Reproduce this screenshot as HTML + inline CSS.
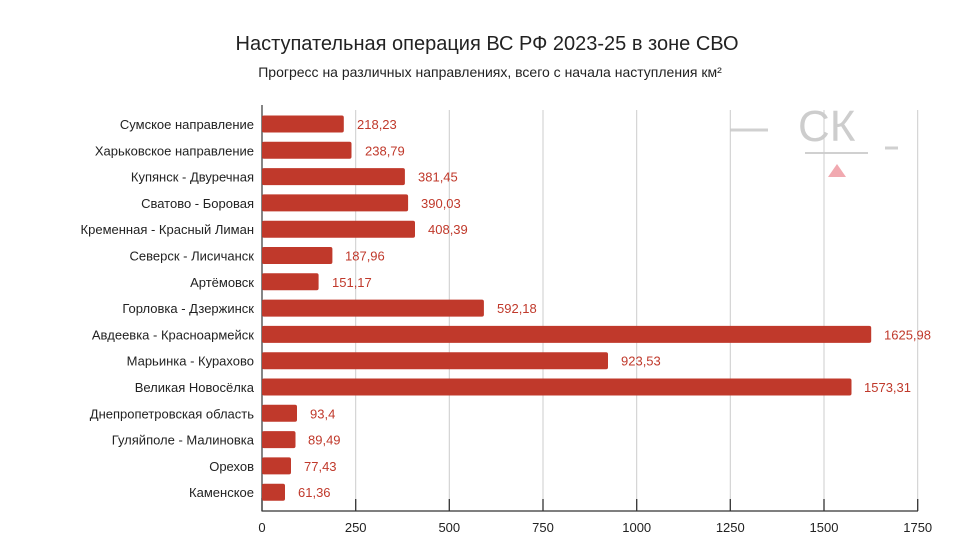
<!DOCTYPE html>
<html><head><meta charset="utf-8"><style>
body{margin:0;background:#fff;}
svg{display:block;font-family:"Liberation Sans",Roboto,sans-serif;}
</style></head><body>
<svg width="974" height="560" viewBox="0 0 974 560" xmlns="http://www.w3.org/2000/svg">
<rect width="974" height="560" fill="#fff"/>
<text x="487" y="50" text-anchor="middle" font-size="20" fill="#222">Наступательная операция ВС РФ 2023-25 в зоне СВО</text>
<text x="490" y="77" text-anchor="middle" font-size="14" fill="#222">Прогресс на различных направлениях, всего с начала наступления км²</text>
<!-- watermark -->
<g opacity="0.9">
<line x1="730" y1="130" x2="768" y2="130" stroke="#ccc" stroke-width="3"/>
<text x="798" y="141" font-size="44" fill="#c8c8c8">СК</text>
<line x1="805" y1="153" x2="868" y2="153" stroke="#ccc" stroke-width="2"/>
<line x1="885" y1="148" x2="898" y2="148" stroke="#ccc" stroke-width="3"/>
<polygon points="828,177 837,164 846,177" fill="#f0a0a8"/>
</g>
<g stroke="#ccc" stroke-width="1">
<line x1="355.7" y1="110" x2="355.7" y2="511"/>
<line x1="449.3" y1="110" x2="449.3" y2="511"/>
<line x1="543" y1="110" x2="543" y2="511"/>
<line x1="636.7" y1="110" x2="636.7" y2="511"/>
<line x1="730.3" y1="110" x2="730.3" y2="511"/>
<line x1="824" y1="110" x2="824" y2="511"/>
<line x1="917.7" y1="110" x2="917.7" y2="511"/>
</g>
<g stroke="#333" stroke-width="1.3">
<line x1="262" y1="498" x2="262" y2="511"/>
<line x1="355.7" y1="499" x2="355.7" y2="511"/>
<line x1="449.3" y1="499" x2="449.3" y2="511"/>
<line x1="543" y1="499" x2="543" y2="511"/>
<line x1="636.7" y1="499" x2="636.7" y2="511"/>
<line x1="730.3" y1="499" x2="730.3" y2="511"/>
<line x1="824" y1="499" x2="824" y2="511"/>
<line x1="917.7" y1="499" x2="917.7" y2="511"/>
</g>
<line x1="262" y1="105" x2="262" y2="511" stroke="#444" stroke-width="1.3"/>
<line x1="261.5" y1="511" x2="918" y2="511" stroke="#333" stroke-width="1.3"/>
<g font-size="13" fill="#222" text-anchor="middle">
<text x="262" y="532">0</text><text x="355.7" y="532">250</text><text x="449.3" y="532">500</text>
<text x="543" y="532">750</text><text x="636.7" y="532">1000</text><text x="730.3" y="532">1250</text>
<text x="824" y="532">1500</text><text x="917.7" y="532">1750</text>
</g>
<g id="bars"></g>
<g font-size="13">
<g text-anchor="end" fill="#222">
<text x="254" y="129">Сумское направление</text>
<text x="254" y="155.3">Харьковское направление</text>
<text x="254" y="181.6">Купянск - Двуречная</text>
<text x="254" y="207.9">Сватово - Боровая</text>
<text x="254" y="234.2">Кременная - Красный Лиман</text>
<text x="254" y="260.5">Северск - Лисичанск</text>
<text x="254" y="286.8">Артёмовск</text>
<text x="254" y="313.1">Горловка - Дзержинск</text>
<text x="254" y="339.4">Авдеевка - Красноармейск</text>
<text x="254" y="365.7">Марьинка - Курахово</text>
<text x="254" y="392">Великая Новосёлка</text>
<text x="254" y="418.3">Днепропетровская область</text>
<text x="254" y="444.6">Гуляйполе - Малиновка</text>
<text x="254" y="470.9">Орехов</text>
<text x="254" y="497.2">Каменское</text>
</g>
<g fill="#c0392b">
<rect x="262" y="115.5" width="81.8" height="17" rx="2"/>
<rect x="262" y="141.8" width="89.5" height="17" rx="2"/>
<rect x="262" y="168.1" width="142.9" height="17" rx="2"/>
<rect x="262" y="194.4" width="146.1" height="17" rx="2"/>
<rect x="262" y="220.7" width="153" height="17" rx="2"/>
<rect x="262" y="247" width="70.4" height="17" rx="2"/>
<rect x="262" y="273.3" width="56.6" height="17" rx="2"/>
<rect x="262" y="299.6" width="221.9" height="17" rx="2"/>
<rect x="262" y="325.9" width="609.2" height="17" rx="2"/>
<rect x="262" y="352.2" width="346" height="17" rx="2"/>
<rect x="262" y="378.5" width="589.5" height="17" rx="2"/>
<rect x="262" y="404.8" width="35" height="17" rx="2"/>
<rect x="262" y="431.1" width="33.5" height="17" rx="2"/>
<rect x="262" y="457.4" width="29" height="17" rx="2"/>
<rect x="262" y="483.7" width="23" height="17" rx="2"/>
</g>
<g fill="#c0392b">
<text x="357" y="129">218,23</text>
<text x="365" y="155.3">238,79</text>
<text x="418" y="181.6">381,45</text>
<text x="421" y="207.9">390,03</text>
<text x="428" y="234.2">408,39</text>
<text x="345" y="260.5">187,96</text>
<text x="332" y="286.8">151,17</text>
<text x="497" y="313.1">592,18</text>
<text x="884" y="339.4">1625,98</text>
<text x="621" y="365.7">923,53</text>
<text x="864" y="392">1573,31</text>
<text x="310" y="418.3">93,4</text>
<text x="308" y="444.6">89,49</text>
<text x="304" y="470.9">77,43</text>
<text x="298" y="497.2">61,36</text>
</g>
</g>
</svg>
</body></html>
